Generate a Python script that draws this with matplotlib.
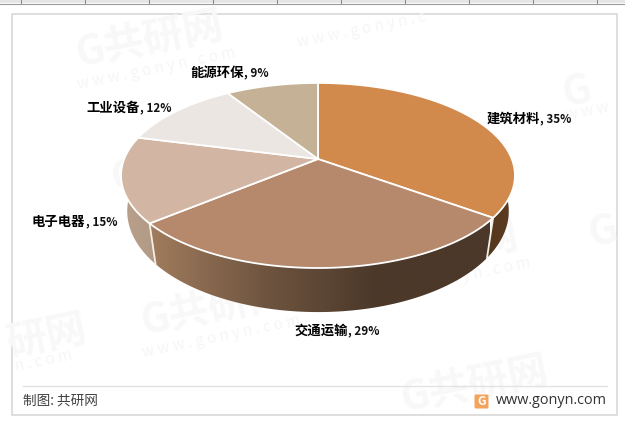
import numpy as np
import matplotlib
matplotlib.use('Agg')
import matplotlib.pyplot as plt
from matplotlib.colors import LinearSegmentedColormap
from matplotlib.patches import Polygon, Rectangle, FancyBboxPatch

plt.rcParams['font.family'] = ['Noto Sans CJK SC', 'DejaVu Sans']

# =========================
# Data
# =========================
categories = ['建筑材料', '交通运输', '电子电器', '工业设备', '能源环保']
shares = [35, 29, 15, 12, 9]

# =========================
# Style / layout (pixels)
# =========================
top_colors = ['#d2894c', '#b6896c', '#d2b6a3', '#ebe6e1', '#c4b196']
label_pos = [(487, 119), (294, 331), (32, 222), (86, 108), (190, 73)]

# watermark pieces as they show inside the frame
wm_big = [('G共研网', 150, 40), ('G共研网', 185, 165), ('G共研网', 445, 250),
          ('G共研网', 215, 308), ('G共研网', 475, 385), ('研网', 46, 337),
          ('G', 578, 92), ('G', 604, 232)]
wm_small = [('w w w . g o n y n . c o m', 156, 69), ('w w w . g o n y n . c o m', 451, 279),
            ('w w w . g o n y n . c o m', 221, 337), ('w w w . g o n y n . c', 362, 30),
            ('n . c o m', 44, 361), ('w w w', 587, 111)]


# =========================
# Perspective of the disc
# =========================
def top_rim(theta):
    """theta in degrees, clockwise from 12 o'clock"""
    u, v = np.sin(np.radians(theta)), np.cos(np.radians(theta))
    d = 1 + 0.178 * v
    return np.column_stack([318 + 193.8 * u / d, 159 - 89.6 * v / d])


def low_rim(theta):
    u, v = np.sin(np.radians(theta)), np.cos(np.radians(theta))
    d = 1 + 0.17 * v
    return np.column_stack([318 + 188 * u / d, 194 - 98 * v / d])


def wall(ax, t0, t1, b0, b1, colors, x0, x1):
    """side wall between top rim t0..t1 and lower rim b0..b1, gradient along x"""
    pts = np.vstack([top_rim(np.linspace(t0, t1, 80)),
                     low_rim(np.linspace(b1, b0, 80))])
    poly = Polygon(pts, closed=True, fc='none', ec='none', zorder=3)
    ax.add_patch(poly)
    cmap = LinearSegmentedColormap.from_list('wall', colors)
    grad = np.linspace(0, 1, 256).reshape(1, -1)
    im = ax.imshow(grad, cmap=cmap, extent=(x0, x1, 330, 150), aspect='auto', zorder=3)
    im.set_clip_path(poly)


fig = plt.figure(figsize=(6.25, 4.22), dpi=100)
ax = fig.add_axes([0, 0, 1, 1])

# spreadsheet strip above the chart
ax.add_patch(Rectangle((0, 0), 625, 3, fc='#e6e6e6', ec='none', zorder=0))
ax.plot([0, 625], [3.5, 3.5], color='#9a9a9a', lw=0.8, zorder=1)
for x in range(21, 625, 64):
    ax.plot([x, x], [0, 3], color='#8c8c8c', lw=0.8, zorder=1)

# chart frame
ax.add_patch(Rectangle((11.5, 13.5), 605, 401.5, fc='white', ec='#d4d4d4', lw=1.1, zorder=0.5))

# watermarks
for s, x, y in wm_big:
    ax.text(x, y, s, fontsize=29, fontweight='bold', color='#f8f8f8',
            rotation=11.5, ha='center', va='center', zorder=1)
for s, x, y in wm_small:
    ax.text(x, y, s, fontsize=11, color='#f6f6f6',
            rotation=11.5, ha='center', va='center', zorder=1)

# =========================
# Pie
# =========================
edges = np.cumsum([0] + shares) / sum(shares) * 360

# side walls
wall(ax, edges[2], 262, edges[2], 272, ['#b8a08c', '#b39a85'], 122, 155)
wall(ax, edges[1], edges[2], edges[1], edges[2],
     ['#a17c5d', '#6f5540', '#4b3829', '#4b3829'], 150, 490)
wall(ax, 103, edges[1], 86, edges[1], ['#54361c', '#5e3e22'], 488, 515)

# wall separators
for e in (edges[1], edges[2]):
    a, b = top_rim(np.array([e]))[0], low_rim(np.array([e]))[0]
    ax.plot([a[0], b[0]], [a[1], b[1]], color='#f3efea', lw=1.3, zorder=4)

# top faces
for i, color in enumerate(top_colors):
    rim = top_rim(np.linspace(edges[i], edges[i + 1], 120))
    pts = np.vstack([[318, 159], rim])
    ax.add_patch(Polygon(pts, closed=True, fc=color, ec='white', lw=1.3,
                         joinstyle='round', zorder=5))

# =========================
# Labels
# =========================
for name, share, (x, y) in zip(categories, shares, label_pos):
    t = ax.text(x, y, name, fontsize=9.6, fontweight='bold', color='black',
                ha='left', va='center', zorder=6)
    ax.annotate(f', {share}%', xy=(1, 0.08), xycoords=t, fontsize=8.4, color='#111111',
                fontweight='bold', ha='left', va='bottom', zorder=6)

# =========================
# Footer
# =========================
ax.plot([23, 607], [385.5, 385.5], color='#e3e3e3', lw=1, zorder=2)
ax.text(23, 401, '制图: 共研网', fontsize=9.8, color='#404040', ha='left', va='center', zorder=6)
ax.add_patch(FancyBboxPatch((476, 396), 11, 11, boxstyle='round,pad=1.5', fc='#f3a35c',
                            ec='none', zorder=6))
ax.text(481.5, 401.5, 'G', fontsize=8.5, fontweight='bold', color='white', ha='center',
        va='center', zorder=7)
ax.text(496, 400, 'www.gonyn.com', fontsize=10.4, color='#333333', ha='left', va='center',
        family='Open Sans', zorder=6)

ax.set_xlim(0, 625)
ax.set_ylim(422, 0)
ax.axis('off')
fig.savefig('out.png', dpi=100)
